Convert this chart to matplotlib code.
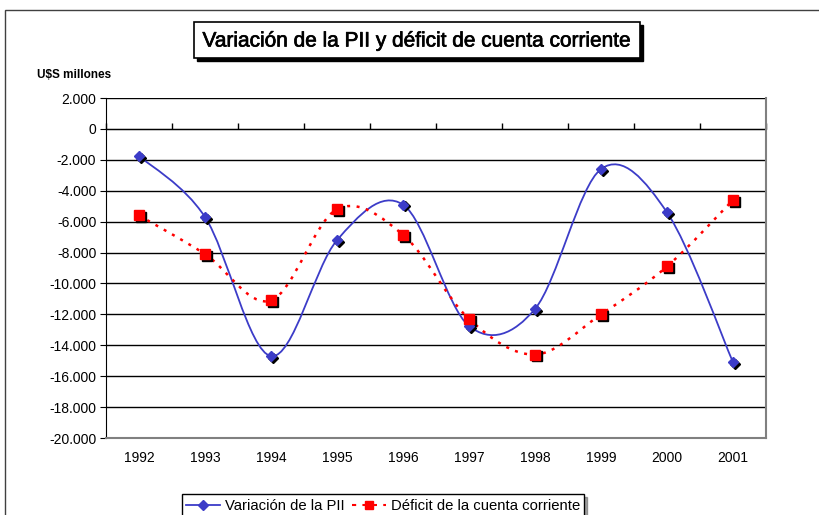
import matplotlib
matplotlib.use("Agg")
import matplotlib.pyplot as plt
import matplotlib.transforms as mtransforms
import matplotlib.patheffects as pe
from matplotlib.path import Path
from matplotlib.patches import PathPatch, Rectangle
from matplotlib.lines import Line2D
import numpy as np

# data (U$S millones)
years = ["1992", "1993", "1994", "1995", "1996", "1997", "1998", "1999", "2000", "2001"]
pii = [-1750, -5700, -14700, -7200, -4900, -12750, -11650, -2600, -5400, -15100]
deficit = [-5600, -8100, -11100, -5200, -6850, -12300, -14600, -12000, -8900, -4600]
yticks = list(range(-20000, 2001, 2000))

blue = "#3c3cc8"
red = "#ff0000"


def smooth_path(xs, ys):
    # excel-like smoothed line: cubic bezier segments through the points
    pts = np.column_stack([xs, ys]).astype(float)
    n = len(pts)
    verts = [pts[0]]
    codes = [Path.MOVETO]
    for i in range(n - 1):
        p0 = pts[i - 1] if i > 0 else pts[i]
        p1 = pts[i]
        p2 = pts[i + 1]
        p3 = pts[i + 2] if i + 2 < n else pts[i + 1]
        c1 = p1 + (p2 - p0) / 6.0
        c2 = p2 - (p3 - p1) / 6.0
        verts += [c1, c2, p2]
        codes += [Path.CURVE4] * 3
    return Path(verts, codes)


plt.rcParams["font.family"] = ["Liberation Sans", "DejaVu Sans"]
W, H = 819, 515
fig = plt.figure(figsize=(W / 100, H / 100), dpi=100)

# outer chart frame (cropped on right/bottom)
fig.patches.append(Rectangle((5 / W, -0.05), 1.1, 1 - 10 / H + 0.05,
                             transform=fig.transFigure, fill=False,
                             edgecolor="#404040", lw=1.0))

ax = fig.add_axes([106 / W, 1 - 438 / H, 660 / W, 340 / H])
x = np.arange(len(years))

ax.set_xlim(-0.5, len(years) - 0.5)
ax.set_ylim(-20000, 2000)
ax.set_yticks(yticks)
ax.set_yticklabels(["{:,}".format(v).replace(",", ".") for v in yticks], fontsize=10)
ax.set_xticks(x)
ax.set_xticklabels(years, fontsize=10)
ax.tick_params(axis="x", length=0, pad=9)
ax.tick_params(axis="y", length=4, direction="out", pad=3)
ax.yaxis.grid(True, color="black", lw=1.0)
ax.set_axisbelow(True)
ax.spines["top"].set_visible(False)
ax.spines["left"].set_color("black")
ax.spines["right"].set_color("#808080")
ax.spines["right"].set_linewidth(1.5)
ax.spines["bottom"].set_color("#808080")
ax.spines["bottom"].set_linewidth(1.5)

# category axis crosses at 0, labels stay at the bottom
sec = ax.secondary_xaxis(location=20000 / 22000)
sec.set_xticks(np.arange(len(years) + 1) - 0.5)
sec.set_xticklabels([])
sec.tick_params(length=4, direction="out", width=1)
sec.spines["bottom"].set_color("black")

# smoothed lines
ax.add_patch(PathPatch(smooth_path(x, pii), fill=False, edgecolor=blue, lw=1.3, zorder=3))
ax.add_patch(PathPatch(smooth_path(x, deficit), fill=False, edgecolor=red, lw=1.8,
                       linestyle=(0, (1.2, 2.6)), zorder=3))

# markers with shadow
shadow = mtransforms.offset_copy(ax.transData, fig=fig, x=1.8, y=-1.8, units="dots")
ax.plot(x, pii, linestyle="none", marker="D", ms=5.5, color="black", transform=shadow, zorder=4)
ax.plot(x, deficit, linestyle="none", marker="s", ms=7, color="black", transform=shadow, zorder=4)
ax.plot(x, pii, linestyle="none", marker="D", ms=5.5, color=blue, mec=blue, zorder=5)
ax.plot(x, deficit, linestyle="none", marker="s", ms=7, color=red, mec=red, zorder=5)

# title box with shadow
bx0, bx1, by0, by1 = 194, 640, 22, 58
fig.patches.append(Rectangle(((bx0 + 3) / W, 1 - (by1 + 3) / H), (bx1 - bx0) / W, (by1 - by0) / H,
                             transform=fig.transFigure, facecolor="black", edgecolor="black"))
fig.patches.append(Rectangle((bx0 / W, 1 - by1 / H), (bx1 - bx0) / W, (by1 - by0) / H,
                             transform=fig.transFigure, facecolor="white", edgecolor="black", lw=1.2))
fig.text((bx0 + bx1) / 2 / W, 1 - 41 / H, "Variación de la PII y déficit de cuenta corriente",
         ha="center", va="center", fontsize=15,
         path_effects=[pe.withStroke(linewidth=0.5, foreground="black")])
fig.text(37 / W, 1 - 75 / H, "U$S millones", ha="left", va="center",
         fontsize=8.5, fontweight="bold")

handles = [
    Line2D([], [], color=blue, lw=1.3, marker="D", ms=5, label="Variación de la PII"),
    Line2D([], [], color=red, lw=1.5, linestyle=(0, (2, 3)), marker="s", ms=6,
           label="Déficit de la cuenta corriente"),
]
leg = fig.legend(handles=handles, loc="upper center", bbox_to_anchor=(383 / W, 1 - 487 / H),
                 ncol=2, fontsize=10.7, frameon=True, fancybox=False, shadow=True,
                 handlelength=2.3, columnspacing=0.5, handletextpad=0.3, borderpad=0.3)
leg.get_frame().set_edgecolor("black")
leg.get_frame().set_linewidth(1.0)

fig.savefig("out.png", dpi=100)
